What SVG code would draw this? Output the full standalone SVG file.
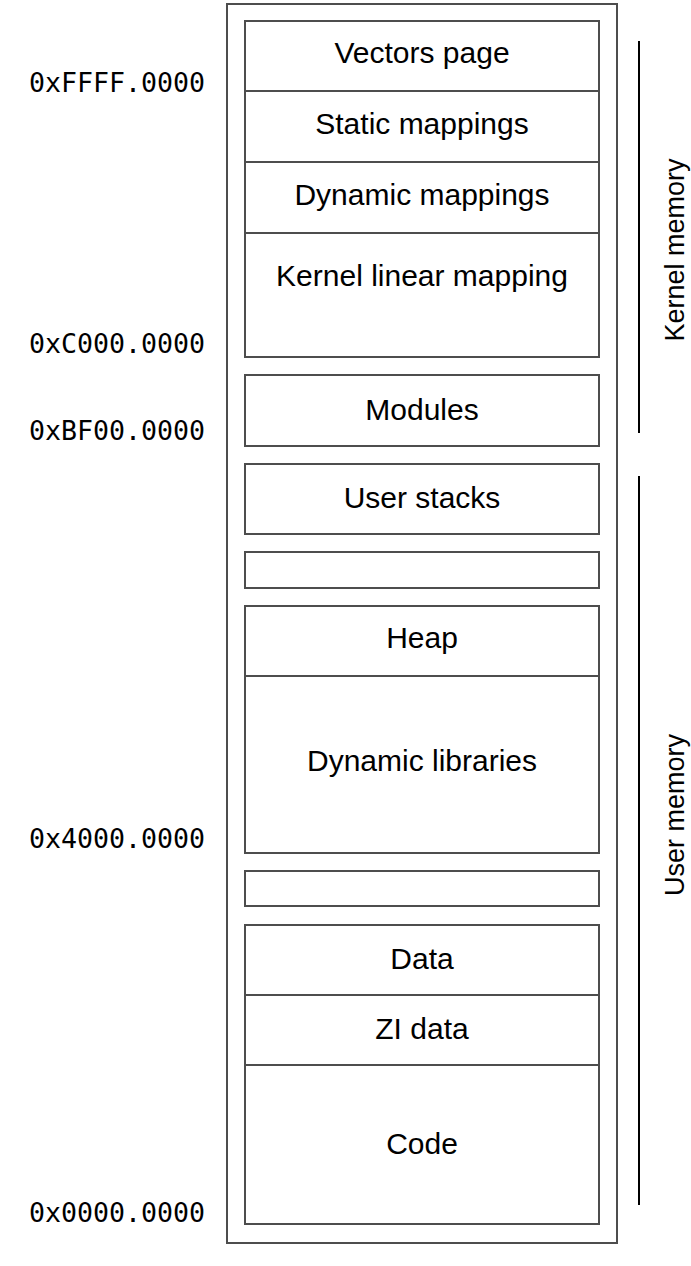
<svg xmlns="http://www.w3.org/2000/svg" width="691" height="1266" viewBox="0 0 691 1266">
<style>
.box{fill:#fff;stroke:#4d4d4d;stroke-width:2}
.lbl{font-family:"Liberation Sans",Arial,sans-serif;font-size:30px;fill:#000;text-anchor:middle}
.addr{font-family:"DejaVu Sans Mono",monospace;font-size:26.6px;fill:#000}
.side{font-family:"Liberation Sans",Arial,sans-serif;font-size:27px;fill:#000;text-anchor:middle}
.bar{stroke:#000;stroke-width:2}
</style>
<rect width="691" height="1266" fill="#fff"/>
<g id="outer"><rect class="box" x="227" y="4" width="390" height="1239"/></g>
<g id="vectors"><rect class="box" x="245" y="21" width="354" height="70"/><text class="lbl" x="422" y="63">Vectors page</text></g>
<g id="static"><rect class="box" x="245" y="91" width="354" height="71"/><text class="lbl" x="422" y="134">Static mappings</text></g>
<g id="dynamic"><rect class="box" x="245" y="162" width="354" height="71"/><text class="lbl" x="422" y="205">Dynamic mappings</text></g>
<g id="kernel-linear"><rect class="box" x="245" y="233" width="354" height="124"/><text class="lbl" x="422" y="286">Kernel linear mapping</text></g>
<g id="modules"><rect class="box" x="245" y="375" width="354" height="71"/><text class="lbl" x="422" y="420">Modules</text></g>
<g id="user-stacks"><rect class="box" x="245" y="464" width="354" height="70"/><text class="lbl" x="422" y="508">User stacks</text></g>
<g id="gap1"><rect class="box" x="245" y="552" width="354" height="36"/></g>
<g id="heap"><rect class="box" x="245" y="606" width="354" height="70"/><text class="lbl" x="422" y="648">Heap</text></g>
<g id="dynlibs"><rect class="box" x="245" y="676" width="354" height="177"/><text class="lbl" x="422" y="771">Dynamic libraries</text></g>
<g id="gap2"><rect class="box" x="245" y="871" width="354" height="35"/></g>
<g id="data"><rect class="box" x="245" y="925" width="354" height="70"/><text class="lbl" x="422" y="969">Data</text></g>
<g id="zidata"><rect class="box" x="245" y="995" width="354" height="70"/><text class="lbl" x="422" y="1039">ZI data</text></g>
<g id="code"><rect class="box" x="245" y="1065" width="354" height="159"/><text class="lbl" x="422" y="1154">Code</text></g>
<g id="addresses">
<text class="addr" x="29" y="92">0xFFFF.0000</text>
<text class="addr" x="29" y="353">0xC000.0000</text>
<text class="addr" x="29" y="440">0xBF00.0000</text>
<text class="addr" x="29" y="848">0x4000.0000</text>
<text class="addr" x="29" y="1222">0x0000.0000</text>
</g>
<g id="connectors">
<line class="bar" x1="639" y1="41" x2="639" y2="433"/>
<line class="bar" x1="639" y1="476" x2="639" y2="1205"/>
</g>
<g id="kernel-memory"><text class="side" transform="translate(684,250) rotate(-90)">Kernel memory</text></g>
<g id="user-memory"><text class="side" transform="translate(684,815) rotate(-90)">User memory</text></g>
</svg>
